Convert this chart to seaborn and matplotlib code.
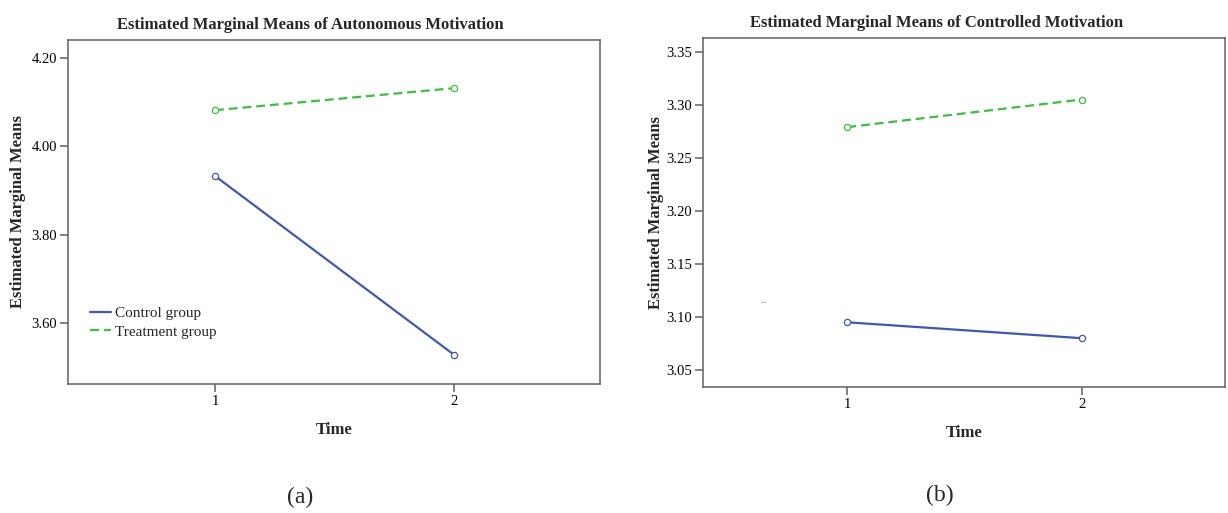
import matplotlib
matplotlib.use("Agg")
import matplotlib.pyplot as plt
import seaborn as sns
import pandas as pd
from matplotlib.lines import Line2D

sns.set_theme(style="white")
plt.rcParams['font.family'] = ['Liberation Serif', 'DejaVu Serif']

times = [1, 2]
groups = ["Control group", "Treatment group"]
auto_control = [3.933, 3.528]
auto_treatment = [4.082, 4.132]
ctrl_control = [3.095, 3.080]
ctrl_treatment = [3.279, 3.305]

auto_yticks = [3.60, 3.80, 4.00, 4.20]
ctrl_yticks = [3.05, 3.10, 3.15, 3.20, 3.25, 3.30, 3.35]

titles = ["Estimated Marginal Means of Autonomous Motivation",
          "Estimated Marginal Means of Controlled Motivation"]
captions = ["(a)", "(b)"]

blue = "#4058b0"
green = "#3cbf40"
palette = {groups[0]: blue, groups[1]: green}
dashes = {groups[0]: "", groups[1]: (4, 2.2)}
markers = {groups[0]: "o", groups[1]: "o"}


def make_df(c, t):
    return pd.DataFrame({
        "Time": times * 2,
        "Mean": c + t,
        "Group": [groups[0]] * 2 + [groups[1]] * 2,
    })


fig = plt.figure(figsize=(12.28, 5.13), dpi=100)
ax1 = fig.add_axes([68 / 1228, 1 - 384 / 513, 532 / 1228, 344 / 513])
ax2 = fig.add_axes([703 / 1228, 1 - 387 / 513, 522 / 1228, 349 / 513])

specs = [
    (ax1, make_df(auto_control, auto_treatment), auto_yticks, (3.462, 4.241), 0.455, -0.079),
    (ax2, make_df(ctrl_control, ctrl_treatment), ctrl_yticks, (3.034, 3.363), 0.448, -0.075),
]

for i, (ax, df, yt, ylim, tx, lx) in enumerate(specs):
    sns.lineplot(data=df, x="Time", y="Mean", hue="Group", style="Group",
                 palette=palette, dashes=dashes, markers=markers,
                 linewidth=1.6, markersize=4.5, legend=False, ax=ax)
    for ln in ax.lines:
        ln.set_markerfacecolor("white")
        ln.set_markeredgecolor(ln.get_color())
        ln.set_markeredgewidth(0.9)
    ax.set_xlim(0.385, 2.61)
    ax.set_ylim(*ylim)
    ax.set_xticks(times)
    ax.set_xticklabels([str(t) for t in times])
    ax.set_yticks(yt)
    ax.set_yticklabels(["{:.2f}".format(v) for v in yt])
    for s in ax.spines.values():
        s.set_color("#606060")
        s.set_linewidth(1.1)
        s.set_visible(True)
    ax.tick_params(axis="both", which="both", direction="out", length=6,
                   width=1.1, color="#606060", labelsize=10.5, labelcolor="black",
                   left=True, bottom=True, pad=2)
    ax.set_xlabel("Time", fontsize=12, fontweight="bold", labelpad=10)
    ax.set_ylabel("Estimated Marginal Means", fontsize=12, fontweight="bold")
    ax.yaxis.set_label_coords(lx, 0.5)
    ax.set_title(titles[i], fontsize=12, fontweight="bold", pad=8, x=tx)
    ax.grid(False)

handles = [Line2D([], [], color=blue, lw=1.6),
           Line2D([], [], color=green, lw=1.6, dashes=(4, 2.2))]
ax1.legend(handles, groups, loc="lower left", bbox_to_anchor=(0.03, 0.114),
           frameon=False, fontsize=11, handlelength=1.35, handletextpad=0.25,
           labelspacing=0.3, borderaxespad=0)

ax2.text(0.11, 0.24, "...", transform=ax2.transAxes, fontsize=6, color="#555555")

fig.text(300 / 1228, 1 - 497 / 513, captions[0], ha="center", va="center", fontsize=17)
fig.text(940 / 1228, 1 - 495 / 513, captions[1], ha="center", va="center", fontsize=17)

fig.savefig("out.png", dpi=100, facecolor="white")
